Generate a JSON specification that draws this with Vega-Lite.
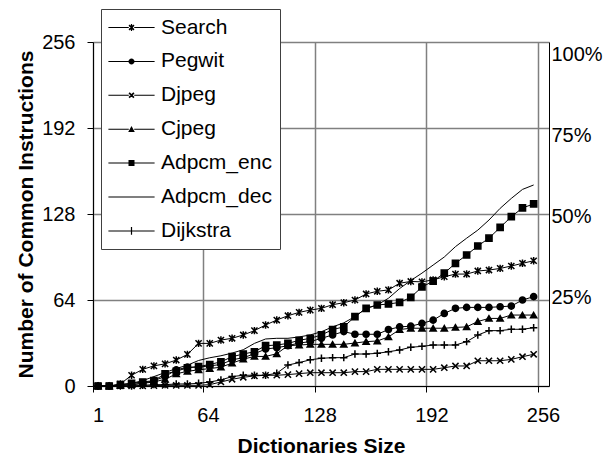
{
  "$schema": "https://vega.github.io/schema/vega-lite/v6.json",
  "autosize": "none",
  "width": 456,
  "height": 344,
  "padding": {"left": 93, "top": 42, "right": 64, "bottom": 77},
  "background": "white",
  "config": {
    "view": {"stroke": null},
    "font": "Liberation Sans",
    "axis": {"labelFont": "Liberation Sans", "titleFont": "Liberation Sans", "labelColor": "black", "titleColor": "black"}
  },
  "datasets": {
    "main": [
      {"x": 3.9, "Search": 0, "Pegwit": 0, "Djpeg": 0, "Cjpeg": 0, "Adpcm_enc": 0, "Adpcm_dec": 0, "Dijkstra": 0},
      {"x": 10.3, "Search": 0, "Pegwit": 0, "Djpeg": 0, "Cjpeg": 0, "Adpcm_enc": 0, "Adpcm_dec": 0, "Dijkstra": 0},
      {"x": 16.7, "Search": 1.5, "Pegwit": 0.5, "Djpeg": 0, "Cjpeg": 0.5, "Adpcm_enc": 1, "Adpcm_dec": 1, "Dijkstra": 0},
      {"x": 23.1, "Search": 8, "Pegwit": 1, "Djpeg": 0, "Cjpeg": 1, "Adpcm_enc": 2, "Adpcm_dec": 2, "Dijkstra": 0},
      {"x": 29.5, "Search": 12.4, "Pegwit": 2, "Djpeg": 0, "Cjpeg": 2, "Adpcm_enc": 3, "Adpcm_dec": 4, "Dijkstra": 0.5},
      {"x": 35.9, "Search": 15, "Pegwit": 4, "Djpeg": 0.3, "Cjpeg": 3, "Adpcm_enc": 4, "Adpcm_dec": 7, "Dijkstra": 1},
      {"x": 42.3, "Search": 16.5, "Pegwit": 7, "Djpeg": 0.5, "Cjpeg": 5, "Adpcm_enc": 9, "Adpcm_dec": 10, "Dijkstra": 1},
      {"x": 48.7, "Search": 19.3, "Pegwit": 12, "Djpeg": 0.5, "Cjpeg": 9, "Adpcm_enc": 11, "Adpcm_dec": 13, "Dijkstra": 1.5},
      {"x": 55.1, "Search": 23.5, "Pegwit": 14, "Djpeg": 0.5, "Cjpeg": 11, "Adpcm_enc": 13.5, "Adpcm_dec": 15.5, "Dijkstra": 1.5},
      {"x": 61.5, "Search": 31.7, "Pegwit": 14, "Djpeg": 0.5, "Cjpeg": 12, "Adpcm_enc": 14.5, "Adpcm_dec": 19, "Dijkstra": 2},
      {"x": 67.9, "Search": 31.7, "Pegwit": 15, "Djpeg": 1, "Cjpeg": 13, "Adpcm_enc": 16, "Adpcm_dec": 21, "Dijkstra": 3},
      {"x": 74.3, "Search": 34.2, "Pegwit": 16, "Djpeg": 3, "Cjpeg": 14, "Adpcm_enc": 18, "Adpcm_dec": 22.5, "Dijkstra": 4.5},
      {"x": 80.7, "Search": 35.5, "Pegwit": 19.5, "Djpeg": 5, "Cjpeg": 17, "Adpcm_enc": 21.8, "Adpcm_dec": 24.5, "Dijkstra": 7},
      {"x": 87.1, "Search": 38, "Pegwit": 21, "Djpeg": 6.5, "Cjpeg": 20, "Adpcm_enc": 23.8, "Adpcm_dec": 27, "Dijkstra": 8},
      {"x": 93.5, "Search": 41.2, "Pegwit": 24, "Djpeg": 7.5, "Cjpeg": 22, "Adpcm_enc": 25.5, "Adpcm_dec": 31.7, "Dijkstra": 8},
      {"x": 99.9, "Search": 45.4, "Pegwit": 27.5, "Djpeg": 8, "Cjpeg": 22, "Adpcm_enc": 30, "Adpcm_dec": 35, "Dijkstra": 8},
      {"x": 106.3, "Search": 49.1, "Pegwit": 28.5, "Djpeg": 8, "Cjpeg": 24, "Adpcm_enc": 30.5, "Adpcm_dec": 35.5, "Dijkstra": 9.5},
      {"x": 112.7, "Search": 52.3, "Pegwit": 30, "Djpeg": 8.5, "Cjpeg": 30, "Adpcm_enc": 31.7, "Adpcm_dec": 35.5, "Dijkstra": 15.6},
      {"x": 119.1, "Search": 54.8, "Pegwit": 32, "Djpeg": 9.2, "Cjpeg": 30.5, "Adpcm_enc": 34, "Adpcm_dec": 36.5, "Dijkstra": 17.4},
      {"x": 125.5, "Search": 56.5, "Pegwit": 33, "Djpeg": 9.9, "Cjpeg": 31, "Adpcm_enc": 35.5, "Adpcm_dec": 38, "Dijkstra": 19.5},
      {"x": 131.9, "Search": 57.8, "Pegwit": 35.5, "Djpeg": 9.9, "Cjpeg": 31, "Adpcm_enc": 38, "Adpcm_dec": 40.4, "Dijkstra": 20.6},
      {"x": 138.3, "Search": 60.5, "Pegwit": 38, "Djpeg": 9.9, "Cjpeg": 31, "Adpcm_enc": 42, "Adpcm_dec": 44, "Dijkstra": 21.1},
      {"x": 144.7, "Search": 62, "Pegwit": 40.5, "Djpeg": 9.9, "Cjpeg": 31, "Adpcm_enc": 44, "Adpcm_dec": 47, "Dijkstra": 21.1},
      {"x": 151.1, "Search": 64, "Pegwit": 38.5, "Djpeg": 10.7, "Cjpeg": 32, "Adpcm_enc": 51.6, "Adpcm_dec": 51.6, "Dijkstra": 23.8},
      {"x": 157.5, "Search": 68.5, "Pegwit": 38.5, "Djpeg": 10.7, "Cjpeg": 33, "Adpcm_enc": 57.8, "Adpcm_dec": 57.8, "Dijkstra": 23.8},
      {"x": 163.9, "Search": 70.5, "Pegwit": 38.5, "Djpeg": 12.4, "Cjpeg": 33.5, "Adpcm_enc": 60.3, "Adpcm_dec": 60.3, "Dijkstra": 24.3},
      {"x": 170.3, "Search": 71.5, "Pegwit": 42, "Djpeg": 12.4, "Cjpeg": 36.5, "Adpcm_enc": 61, "Adpcm_dec": 65.3, "Dijkstra": 25.5},
      {"x": 176.7, "Search": 76.5, "Pegwit": 44, "Djpeg": 12.4, "Cjpeg": 42, "Adpcm_enc": 62.2, "Adpcm_dec": 72.5, "Dijkstra": 26.8},
      {"x": 183.1, "Search": 77.8, "Pegwit": 44.5, "Djpeg": 12.4, "Cjpeg": 43, "Adpcm_enc": 66, "Adpcm_dec": 78.5, "Dijkstra": 28.8},
      {"x": 189.5, "Search": 77.5, "Pegwit": 46.6, "Djpeg": 12.4, "Cjpeg": 43, "Adpcm_enc": 73.7, "Adpcm_dec": 84, "Dijkstra": 29.5},
      {"x": 195.9, "Search": 79, "Pegwit": 49, "Djpeg": 12.4, "Cjpeg": 43, "Adpcm_enc": 78, "Adpcm_dec": 90, "Dijkstra": 30.5},
      {"x": 202.3, "Search": 81.3, "Pegwit": 54, "Djpeg": 13.6, "Cjpeg": 43, "Adpcm_enc": 84, "Adpcm_dec": 96, "Dijkstra": 30.5},
      {"x": 208.7, "Search": 83.3, "Pegwit": 57.8, "Djpeg": 14.9, "Cjpeg": 43.6, "Adpcm_enc": 91.3, "Adpcm_dec": 103.7, "Dijkstra": 30.5},
      {"x": 215.1, "Search": 83.3, "Pegwit": 58.5, "Djpeg": 14.9, "Cjpeg": 44, "Adpcm_enc": 97.5, "Adpcm_dec": 110, "Dijkstra": 33},
      {"x": 221.5, "Search": 85.6, "Pegwit": 58.5, "Djpeg": 18.8, "Cjpeg": 48, "Adpcm_enc": 104.2, "Adpcm_dec": 116, "Dijkstra": 37.9},
      {"x": 227.9, "Search": 86.3, "Pegwit": 58.5, "Djpeg": 18.8, "Cjpeg": 50.3, "Adpcm_enc": 110, "Adpcm_dec": 123.5, "Dijkstra": 41.2},
      {"x": 234.3, "Search": 87.5, "Pegwit": 59, "Djpeg": 18.8, "Cjpeg": 50.3, "Adpcm_enc": 118, "Adpcm_dec": 132.2, "Dijkstra": 41.2},
      {"x": 240.7, "Search": 89.3, "Pegwit": 59.5, "Djpeg": 19.8, "Cjpeg": 52.8, "Adpcm_enc": 126, "Adpcm_dec": 139.6, "Dijkstra": 42.2},
      {"x": 247.1, "Search": 91.3, "Pegwit": 64, "Djpeg": 21.8, "Cjpeg": 52.8, "Adpcm_enc": 132.5, "Adpcm_dec": 146.3, "Dijkstra": 42.2},
      {"x": 253.5, "Search": 93.2, "Pegwit": 66.5, "Djpeg": 23.6, "Cjpeg": 52.8, "Adpcm_enc": 135.5, "Adpcm_dec": 149.6, "Dijkstra": 43.4}
    ],
    "pct": [{"p": 0}, {"p": 100}]
  },
  "layer": [
    {
      "layer": [
        {
          "data": {"name": "main"},
          "transform": [{"fold": ["Search", "Pegwit", "Djpeg", "Cjpeg", "Adpcm_enc", "Adpcm_dec", "Dijkstra"], "as": ["series", "value"]}],
          "mark": {"type": "line", "color": "black", "strokeWidth": 1},
          "encoding": {
            "x": {"field": "x", "type": "quantitative", "scale": {"domain": [1, 262.3], "nice": false, "zero": false},
              "axis": {"values": [1, 64, 128, 192, 256], "grid": true, "gridColor": "#808080", "gridWidth": 1.5, "domainColor": "black", "tickColor": "black", "tickSize": 6, "labelFontSize": 20, "labelPadding": 13, "labelOffset": 5, "labelFlush": false, "title": "Dictionaries Size", "titleFontSize": 21, "titleFontWeight": "bold", "titlePadding": 10}},
            "y": {"field": "value", "type": "quantitative", "scale": {"domain": [0, 256], "nice": false},
              "axis": {"values": [0, 64, 128, 192, 256], "grid": true, "gridColor": "#808080", "gridWidth": 1.5, "domainColor": "black", "tickColor": "black", "tickSize": 6, "labelFontSize": 20, "labelPadding": 12, "title": "Number of Common Instructions", "titleFontSize": 21, "titleFontWeight": "bold", "titlePadding": 5}},
            "detail": {"field": "series", "type": "nominal"}
          }
        },
        {
          "data": {"name": "main"},
          "transform": [{"fold": ["Search", "Pegwit", "Djpeg", "Cjpeg", "Adpcm_enc", "Adpcm_dec", "Dijkstra"], "as": ["series", "value"]}],
          "mark": {"type": "point", "filled": true, "color": "black", "stroke": "black", "strokeWidth": 1.5, "size": 38, "opacity": 1},
          "encoding": {
            "x": {"field": "x", "type": "quantitative"},
            "y": {"field": "value", "type": "quantitative"},
            "shape": {"field": "series", "type": "nominal",
              "scale": {"domain": ["Search", "Pegwit", "Djpeg", "Cjpeg", "Adpcm_enc", "Adpcm_dec", "Dijkstra"],
                "range": ["M-1,-1L1,1M1,-1L-1,1M0,-1.2V1.2", "circle", "M-1,-1L1,1M1,-1L-1,1", "triangle-up", "square", "M0,0", "M-1.2,0H1.2M0,-1.2V1.2"]},
              "legend": null
            }
          }
        },
        {
          "data": {"name": "main"},
          "transform": [{"fold": ["Search", "Pegwit", "Djpeg", "Cjpeg", "Adpcm_enc", "Adpcm_dec", "Dijkstra"], "as": ["series", "value"]}, {"filter": "false"}],
          "mark": {"type": "point", "filled": true, "color": "black", "opacity": 1},
          "encoding": {
            "shape": {"field": "series", "type": "nominal",
              "scale": {"domain": ["Search", "Pegwit", "Djpeg", "Cjpeg", "Adpcm_enc", "Adpcm_dec", "Dijkstra"],
                "range": [
                  "M-7.7,-0.17H-0.9V0.17H-7.7ZM0.9,-0.17H7.7V0.17H0.9ZM-1,-0.6L-0.6,-1L1,0.6L0.6,1ZM1,-0.6L-0.6,1L-1,0.6L0.6,-1ZM-0.2,-1.2H0.2V1.2H-0.2Z",
                  "M-7.7,-0.17H-0.9V0.17H-7.7ZM0.9,-0.17H7.7V0.17H0.9ZM1,0A1,1,0,1,1,-1,0A1,1,0,1,1,1,0Z",
                  "M-7.7,-0.17H-0.9V0.17H-7.7ZM0.9,-0.17H7.7V0.17H0.9ZM-1,-0.6L-0.6,-1L1,0.6L0.6,1ZM1,-0.6L-0.6,1L-1,0.6L0.6,-1Z",
                  "M-7.7,-0.17H-0.9V0.17H-7.7ZM0.9,-0.17H7.7V0.17H0.9ZM0,-1.1L1.1,0.9H-1.1Z",
                  "M-7.7,-0.17H-0.9V0.17H-7.7ZM0.9,-0.17H7.7V0.17H0.9ZM-1,-1H1V1H-1Z",
                  "M-7.7,-0.17H7.7V0.17H-7.7Z",
                  "M-7.7,-0.17H-0.2V0.17H-7.7ZM0.2,-0.17H7.7V0.17H0.2ZM-0.2,-1.3H0.2V1.3H-0.2Z"
                ]},
              "legend": {
                "orient": "none", "legendX": 8, "legendY": -33, "title": null, "padding": 8,
                "fillColor": "white", "strokeColor": "#404040", "cornerRadius": 0,
                "labelFont": "Liberation Sans", "labelFontSize": 21, "labelColor": "black",
                "symbolSize": 36, "symbolOffset": 12, "labelOffset": 19, "rowPadding": 11.9,
                "symbolStrokeWidth": 0, "symbolFillColor": "black",
                "encode": {"symbols": {"fill": {"value": "black"}}}
              }
            }
          }
        }
      ],
      "resolve": {"scale": {"shape": "independent"}, "legend": {"shape": "independent"}}
    },
    {
      "data": {"name": "pct"},
      "mark": {"type": "point", "opacity": 0},
      "encoding": {
        "y": {"field": "p", "type": "quantitative", "scale": {"domain": [-2.2, 104], "nice": false, "zero": false},
          "axis": {"orient": "right", "values": [25, 50, 75, 100], "labelExpr": "datum.value + '%'", "ticks": false, "grid": false, "domainColor": "black", "labelFontSize": 20, "labelPadding": 2, "title": null}}
      }
    }
  ],
  "resolve": {"scale": {"y": "independent"}}
}
